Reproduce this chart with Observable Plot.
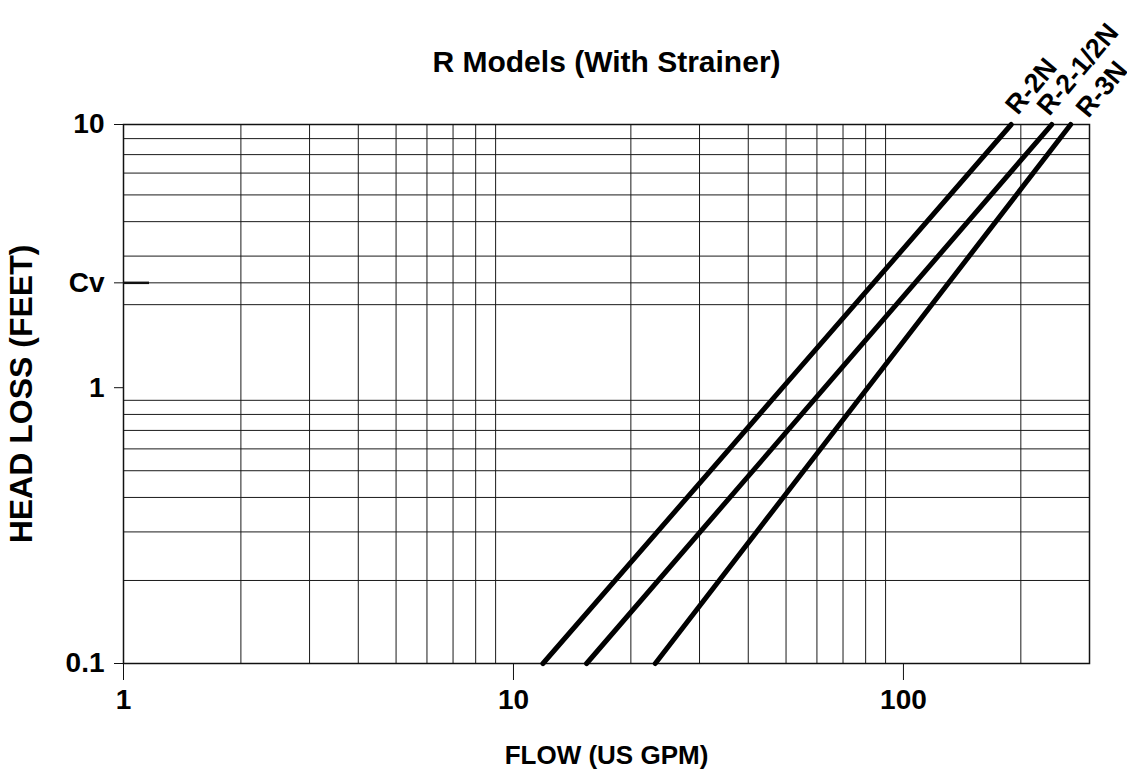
<!DOCTYPE html>
<html><head><meta charset="utf-8">
<script src="https://cdn.jsdelivr.net/npm/d3@7"></script>
<script src="https://cdn.jsdelivr.net/npm/@observablehq/plot@0.6"></script>
<style>body{margin:0;background:#fff}</style>
</head><body><div id="chart"></div>
<script>
// Data (head loss in the chart's own units; the top frame line is labelled "10")
const heads = [0.1, 1, 9];
const flowR2N = [11.9, 49.0, 189];
const flowR2half = [15.4, 62.8, 240];
const flowR3N = [23.1, 81.0, 268.5];
const seriesNames = ["R-2N", "R-2-1/2N", "R-3N"];
const seriesFlows = [flowR2N, flowR2half, flowR3N];

const xTicks = [1, 10, 100];
const xTickLabels = ["1", "10", "100"];
const yTicks = [0.1, 1, 2.4, 9];
const yTickLabels = ["0.1", "1", "Cv", "10"];
const cvHead = [2.4];
const xGrid = [2, 3, 4, 5, 6, 7, 8, 9, 20, 30, 40, 50, 60, 70, 80, 90, 200];
const yGrid = [0.2, 0.3, 0.4, 0.5, 0.6, 0.7, 0.8, 0.9, 2, 2.4, 3, 4, 5, 6, 7, 8];

const titleText = "R Models (With Strainer)";
const xLabel = "FLOW (US GPM)";
const yLabel = "HEAD LOSS (FEET)";

const rows = seriesNames.flatMap((name, i) =>
  heads.map((h, j) => ({name, flow: seriesFlows[i][j], head: h})));
const tops = seriesNames.map((name, i) => ({name, flow: seriesFlows[i][heads.length - 1], head: heads[heads.length - 1]}));

const labelStyle = {x: "flow", y: "head", text: "name", rotate: -50, textAnchor: "start",
  fontSize: 27, fontWeight: "bold", fill: "#000"};

const font = "'Liberation Sans', Arial, sans-serif";
const chart = Plot.plot({
  width: 1127,
  height: 773,
  marginLeft: 123,
  marginRight: 38,
  marginTop: 124,
  marginBottom: 110,
  style: {fontFamily: font, background: "#fff", color: "#000", overflow: "visible"},
  x: {type: "log", domain: [1, 300]},
  y: {type: "log", domain: [0.1, 9.001]},
  marks: [
    Plot.gridX(xGrid, {stroke: "#1a1a1a", strokeOpacity: 1, strokeWidth: 1}),
    Plot.gridY(yGrid, {stroke: "#1a1a1a", strokeOpacity: 1, strokeWidth: 1}),
    Plot.frame({stroke: "#111", strokeWidth: 1.5}),
    Plot.axisX({ticks: xTicks, tickFormat: d => xTickLabels[xTicks.indexOf(d)], tickSize: 17, tickPadding: 9,
      fontSize: 28, fontWeight: "bold", label: null, stroke: "#111"}),
    Plot.axisY({ticks: yTicks, tickSize: 9, text: null, label: null, stroke: "#111"}),
    Plot.text(yTicks, {y: d => d, text: (d, i) => yTickLabels[i], frameAnchor: "left", textAnchor: "end",
      lineAnchor: "middle", dx: -19, fontSize: 28, fontWeight: "bold", fill: "#000"}),
    Plot.axisY({ticks: cvHead, tickSize: -26, text: null, label: null, strokeWidth: 2.5, stroke: "#111"}),
    Plot.line(rows, {x: "flow", y: "head", z: "name", stroke: "#000", strokeWidth: 5}),
    Plot.text(tops.slice(0, 1), {...labelStyle, dx: 0, dy: -14}),
    Plot.text(tops.slice(1, 2), {...labelStyle, dx: -9, dy: -13}),
    Plot.text(tops.slice(2, 3), {...labelStyle, dx: 11, dy: -11}),
    Plot.text([titleText], {frameAnchor: "top", dy: -74, fontSize: 30, fontWeight: "bold", fill: "#000"}),
    Plot.text([xLabel], {frameAnchor: "bottom", lineAnchor: "middle", dy: 92, fontSize: 26, fontWeight: "bold", fill: "#000"}),
    Plot.text([yLabel], {frameAnchor: "left", textAnchor: "middle", lineAnchor: "middle", dx: -102, rotate: -90, fontSize: 32, fontWeight: "bold", fill: "#000"})
  ]
});
document.getElementById("chart").append(chart);
</script>
</body></html>
